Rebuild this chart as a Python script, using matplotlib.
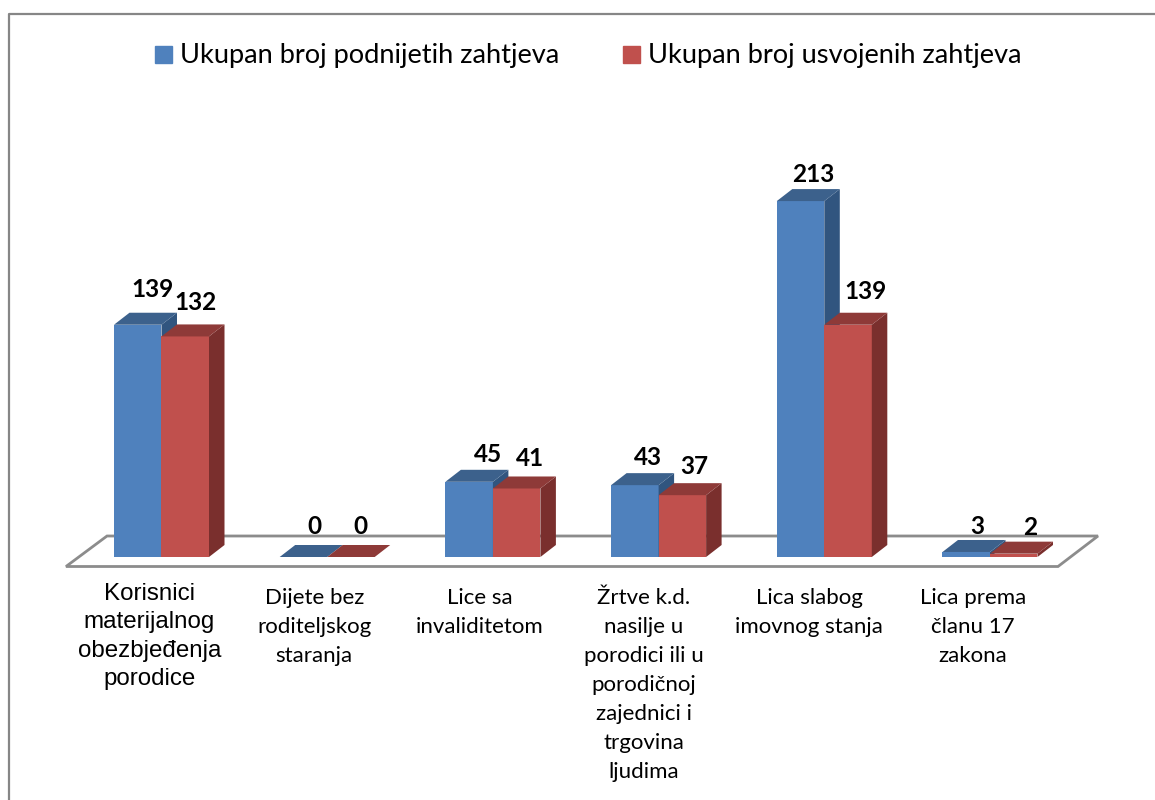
import matplotlib
matplotlib.use('Agg')
import matplotlib.pyplot as plt
from matplotlib.patches import Polygon, Rectangle

categories = [
    'Korisnici\nmaterijalnog\nobezbjeđenja\nporodice',
    'Dijete bez\nroditeljskog\nstaranja',
    'Lice sa\ninvaliditetom',
    'Žrtve k.d.\nnasilje u\nporodici ili u\nporodičnoj\nzajednici i\ntrgovina\nljudima',
    'Lica slabog\nimovnog stanja',
    'Lica prema\nčlanu 17\nzakona',
]
podnijeti = [139, 0, 45, 43, 213, 3]
usvojeni = [132, 0, 41, 37, 139, 2]
series_names = ['Ukupan broj podnijetih zahtjeva', 'Ukupan broj usvojenih zahtjeva']

# label nudges in pixels, from the bar's front top centre
blue_nudge = [(15, 35), (11, 30), (19, 27), (13, 28), (13, 27), (11, 25)]
red_nudge = [(10, 34), (9, 30), (13, 30), (12, 29), (17, 33), (16, 26)]
# category label shift from group centre, in pixels
cat_shift = [-12, -13, -13, -15, -15, -17]

plt.rcParams['font.family'] = ['Lato', 'DejaVu Sans']

fig = plt.figure(figsize=(11.55, 8), dpi=100)
ax = fig.add_axes([0, 0, 1, 1])

# pixels per unit on each axis, zero line sits at y=557 and first group at x=161.5
px_x = 165.7
px_y = 1.671
ax.set_xlim(-161.5 / px_x, (1155 - 161.5) / px_x)
ax.set_ylim(-(800 - 557) / px_y, 557 / px_y)
ax.axis('off')

bar_w = 47.5 / px_x
dx = 15.5 / px_x
dy = 12 / px_y

# frame around the chart
frame_l = 8.5 / 1155
frame_t = 1 - 13.5 / 800
fig.add_artist(plt.Line2D([frame_l, frame_l, 1], [0, frame_t, frame_t], color='#868686', lw=1.6))

# floor
floor_front = -9.5 / px_y
floor_back = 21 / px_y
floor = [(-95.5 / px_x, floor_front), (-54.5 / px_x, floor_back),
         ((1098 - 161.5) / px_x, floor_back), ((1058 - 161.5) / px_x, floor_front)]
ax.add_patch(Polygon(floor, closed=True, facecolor='white', edgecolor='#8c8c8c', lw=2, zorder=1))


def draw_bar(left, val, front, side, top, z):
    ax.bar(left, val, width=bar_w, align='edge', color=front, zorder=z)
    r = left + bar_w
    ax.add_patch(Polygon([(r, 0), (r + dx, dy), (r + dx, val + dy), (r, val)],
                         closed=True, facecolor=side, edgecolor='none', zorder=z))
    ax.add_patch(Polygon([(left, val), (left + dx, val + dy), (r + dx, val + dy), (r, val)],
                         closed=True, facecolor=top, edgecolor='none', zorder=z))


for i in range(len(categories)):
    draw_bar(i - bar_w, podnijeti[i], '#4f81bd', '#31557f', '#3c618c', 3)
    draw_bar(i, usvojeni[i], '#c0504d', '#7a2f2d', '#8e3a38', 4)

    ax.text(i - bar_w / 2 + blue_nudge[i][0] / px_x, podnijeti[i] + blue_nudge[i][1] / px_y,
            str(podnijeti[i]), ha='center', va='center', fontsize=17.6, fontweight='bold',
            color='black', zorder=6)
    ax.text(i + bar_w / 2 + red_nudge[i][0] / px_x, usvojeni[i] + red_nudge[i][1] / px_y,
            str(usvojeni[i]), ha='center', va='center', fontsize=17.6, fontweight='bold',
            color='black', zorder=6)

# category labels, first one is in a different font in the original
for i, label in enumerate(categories):
    if i == 0:
        ax.text(i + cat_shift[i] / px_x, -(583 - 557) / px_y, label, ha='center', va='top',
                fontsize=17.4, family='Liberation Sans', linespacing=1.37, color='black')
    else:
        ax.text(i + cat_shift[i] / px_x, -(588 - 557) / px_y, label, ha='center', va='top',
                fontsize=16, linespacing=1.56, color='black')

# legend
legend_x = [155, 623]
text_x = [180, 648]
for x, c in zip(legend_x, ['#4f81bd', '#c0504d']):
    fig.add_artist(Rectangle((x / 1155, 1 - 63 / 800), 17 / 1155, 17 / 800, color=c,
                             transform=fig.transFigure))
for x, name in zip(text_x, series_names):
    fig.text(x / 1155, 1 - 55 / 800, name, ha='left', va='center', fontsize=19.6, color='black')

plt.savefig('out.png', dpi=100)
